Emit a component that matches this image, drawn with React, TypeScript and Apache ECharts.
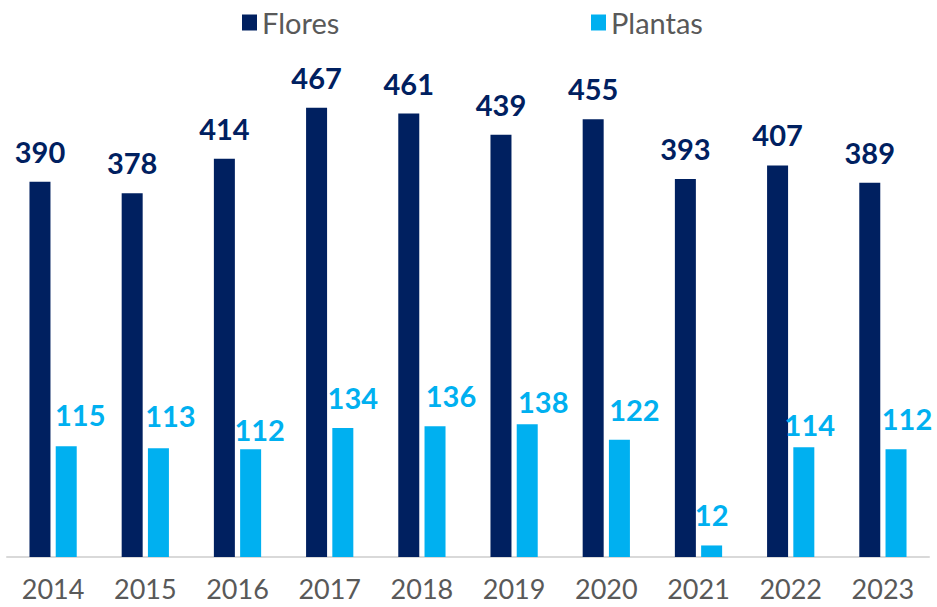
import React, { useEffect, useRef } from "react";
import * as echarts from "echarts";

const years = ["2014", "2015", "2016", "2017", "2018", "2019", "2020", "2021", "2022", "2023"];
const flores = [390, 378, 414, 467, 461, 439, 455, 393, 407, 389];
const plantas = [115, 113, 112, 134, 136, 138, 122, 12, 114, 112];
// manual label nudges (px) for the Plantas labels, as in the source chart
const plantasLabelDx = [14, 12, 9, 10, 16, 16, 15, 0, 6, 11];
const plantasLabelDy = [-1, -2, 11, 0, 0, 8, 0, 0, 8, 0];

const FLORES = "#002060";
const PLANTAS = "#00B0F0";
const FONT = "Lato, 'Noto Sans', sans-serif";

export default function App() {
  const ref = useRef<HTMLDivElement>(null);
  useEffect(() => {
    if (!ref.current) return;
    const chart = echarts.init(ref.current, null, { renderer: "svg" });
    const legendText = { color: "#595959", fontSize: 29, fontFamily: FONT };
    chart.setOption({
      animation: false,
      backgroundColor: "#ffffff",
      legend: [
        {
          data: ["Flores"],
          left: 242,
          top: 8,
          padding: 0,
          icon: "rect",
          itemWidth: 15,
          itemHeight: 16,
          itemGap: 10,
          textStyle: legendText,
        },
        {
          data: ["Plantas"],
          left: 591,
          top: 8,
          padding: 0,
          icon: "rect",
          itemWidth: 15,
          itemHeight: 16,
          itemGap: 10,
          textStyle: legendText,
        },
      ],
      grid: { left: 7, right: 8, top: 76, bottom: 50, containLabel: false },
      xAxis: {
        type: "category",
        data: years,
        axisLine: { show: true, lineStyle: { color: "#d9d9d9", width: 2 } },
        axisTick: { show: false },
        axisLabel: { color: "#595959", fontSize: 27, fontFamily: FONT, margin: 18 },
      },
      yAxis: {
        type: "value",
        min: 0,
        max: 500,
        show: false,
        splitLine: { show: false },
      },
      series: [
        {
          name: "Flores",
          type: "bar",
          data: flores,
          barWidth: 21,
          barGap: "25%",
          itemStyle: { color: FLORES },
          label: {
            show: true,
            position: "top",
            distance: 16,
            color: FLORES,
            fontSize: 29,
            fontWeight: "bold",
            fontFamily: FONT,
          },
        },
        {
          name: "Plantas",
          type: "bar",
          data: plantas.map((v, i) => ({
            value: v,
            label: { offset: [plantasLabelDx[i], plantasLabelDy[i]] },
          })),
          barWidth: 21,
          barGap: "25%",
          itemStyle: { color: PLANTAS },
          label: {
            show: true,
            position: "top",
            distance: 16,
            color: PLANTAS,
            fontSize: 29,
            fontWeight: "bold",
            fontFamily: FONT,
          },
        },
      ],
    });
    return () => chart.dispose();
  }, []);
  return (
    <div
      ref={ref}
      style={{ position: "fixed", left: 0, top: 0, width: 937, height: 607 }}
    />
  );
}
